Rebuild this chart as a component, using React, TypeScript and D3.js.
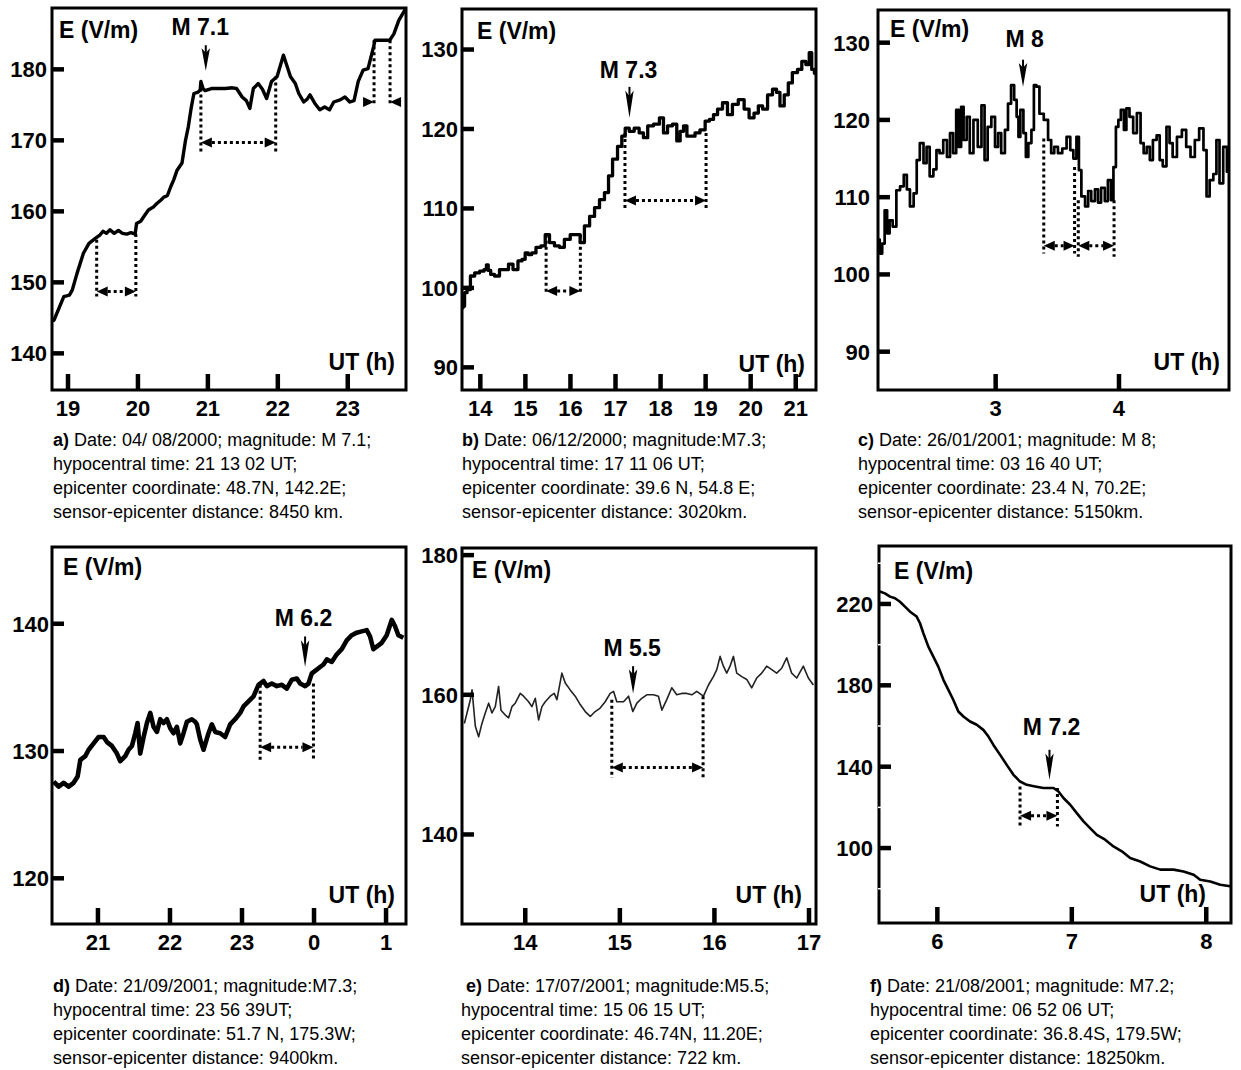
import React from 'react';
import * as d3 from 'd3';

type Pt = [number, number];

// ---------- series (time in UT hours, E in V/m) ----------
const seriesA: Pt[] = [
  [18.78, 144.5], [18.8, 144.7], [18.94, 148.0], [19.02, 148.2], [19.06, 148.9], [19.13, 151.3], [19.22, 154.1],
  [19.3, 155.5], [19.39, 156.2], [19.46, 156.7], [19.5, 157.2], [19.55, 156.9], [19.6, 157.4], [19.66, 156.9],
  [19.72, 157.3], [19.78, 156.9], [19.84, 156.8], [19.9, 157.0], [19.96, 156.8], [19.98, 158.3], [20.04, 158.6],
  [20.08, 159.2], [20.15, 160.2], [20.22, 160.6], [20.27, 161.1], [20.33, 161.6], [20.37, 162.0], [20.42, 162.2],
  [20.47, 163.5], [20.51, 164.4], [20.56, 165.8], [20.63, 166.8], [20.68, 170.0], [20.72, 171.9], [20.76, 174.5],
  [20.8, 176.6], [20.86, 176.8], [20.89, 177.1], [20.9, 178.3], [20.93, 177.3], [20.96, 177.0], [21.05, 177.3],
  [21.15, 177.3], [21.25, 177.3], [21.35, 177.4], [21.41, 177.3], [21.49, 176.1], [21.55, 175.6], [21.6, 174.5],
  [21.65, 177.3], [21.72, 178.0], [21.78, 177.2], [21.84, 175.9], [21.91, 178.3], [21.99, 179.0], [22.08, 182.0],
  [22.13, 180.5], [22.18, 179.0], [22.25, 178.0], [22.3, 176.6], [22.37, 175.4], [22.42, 175.8], [22.46, 176.4],
  [22.53, 175.2], [22.6, 174.3], [22.67, 174.7], [22.74, 174.3], [22.8, 175.4], [22.89, 175.7], [22.96, 176.1],
  [23.03, 175.4], [23.09, 175.6], [23.15, 178.3], [23.22, 179.9], [23.29, 180.1], [23.37, 183.2], [23.39, 184.1],
  [23.45, 184.1], [23.52, 184.1], [23.6, 184.1], [23.66, 185.0], [23.73, 186.9], [23.82, 188.4],
];

const seriesB: Pt[] = [
  [13.6, 97.5], [13.63, 97.7], [13.67, 99.4], [13.74, 99.8], [13.82, 101.5], [13.93, 101.9], [14.04, 102.1],
  [14.12, 102.3], [14.15, 102.9], [14.2, 102.2], [14.26, 101.7], [14.37, 101.5], [14.48, 102.3], [14.58, 102.3],
  [14.67, 103.0], [14.78, 102.3], [14.89, 103.4], [14.96, 103.6], [15.03, 104.4], [15.1, 104.2], [15.18, 104.4],
  [15.29, 105.1], [15.4, 105.3], [15.48, 106.7], [15.59, 105.7], [15.7, 105.3], [15.81, 105.1], [15.92, 106.1],
  [16.07, 106.7], [16.18, 106.7], [16.25, 105.7], [16.37, 107.8], [16.48, 109.0], [16.59, 110.1], [16.7, 111.1],
  [16.81, 112.0], [16.88, 114.1], [16.99, 116.2], [17.1, 117.8], [17.18, 119.1], [17.25, 120.1], [17.36, 119.7],
  [17.47, 120.1], [17.58, 119.5], [17.66, 118.9], [17.77, 120.4], [17.92, 120.6], [18.03, 121.4], [18.1, 119.5],
  [18.21, 120.4], [18.32, 120.6], [18.4, 118.5], [18.47, 119.7], [18.55, 120.4], [18.62, 119.1], [18.73, 119.1],
  [18.8, 119.5], [18.95, 119.9], [19.03, 121.0], [19.14, 121.2], [19.21, 121.8], [19.32, 122.5], [19.43, 123.3],
  [19.54, 121.8], [19.65, 123.1], [19.8, 123.7], [19.91, 122.5], [20.02, 121.4], [20.13, 122.0], [20.21, 122.9],
  [20.32, 122.5], [20.43, 124.3], [20.54, 125.0], [20.61, 124.6], [20.69, 122.9], [20.8, 124.3], [20.87, 125.8],
  [20.98, 127.1], [21.1, 127.5], [21.17, 128.5], [21.28, 128.1], [21.32, 129.6], [21.39, 127.5], [21.44, 127.0],
];

const seriesC: Pt[] = [
  [2.05, 104.5], [2.07, 102.7], [2.09, 104.0], [2.11, 108.3], [2.13, 105.3], [2.15, 107.0], [2.18, 106.2],
  [2.21, 110.9], [2.24, 111.4], [2.27, 112.9], [2.29, 111.0], [2.32, 108.8], [2.35, 110.5], [2.37, 114.8],
  [2.4, 117.0], [2.43, 114.4], [2.45, 116.5], [2.48, 112.7], [2.51, 113.6], [2.53, 116.1], [2.56, 115.7],
  [2.59, 117.4], [2.62, 115.2], [2.64, 118.3], [2.67, 115.7], [2.69, 121.3], [2.71, 116.5], [2.73, 121.7],
  [2.75, 117.4], [2.78, 120.4], [2.8, 115.7], [2.84, 120.0], [2.87, 116.5], [2.9, 121.9], [2.92, 114.8],
  [2.95, 119.1], [2.98, 120.4], [3.01, 116.5], [3.03, 118.3], [3.06, 115.7], [3.09, 118.7], [3.11, 122.1],
  [3.14, 124.5], [3.16, 122.6], [3.18, 120.4], [3.19, 117.8], [3.21, 121.3], [3.24, 118.3], [3.25, 115.2],
  [3.28, 117.0], [3.3, 118.7], [3.32, 124.5], [3.34, 124.3], [3.37, 120.8], [3.41, 120.0], [3.44, 117.4],
  [3.46, 115.7], [3.49, 116.5], [3.52, 115.7], [3.56, 116.3], [3.59, 117.8], [3.62, 116.1], [3.64, 115.0],
  [3.67, 117.8], [3.68, 113.5], [3.71, 110.1], [3.74, 108.8], [3.76, 110.8], [3.79, 109.5], [3.82, 111.0],
  [3.84, 109.3], [3.87, 111.2], [3.9, 109.5], [3.92, 112.2], [3.95, 109.6], [3.96, 113.9], [3.99, 119.1],
  [4.0, 120.0], [4.03, 121.3], [4.05, 118.7], [4.07, 121.5], [4.1, 120.4], [4.13, 118.3], [4.16, 120.9],
  [4.19, 117.0], [4.21, 115.7], [4.24, 116.5], [4.26, 114.8], [4.29, 117.4], [4.32, 118.0], [4.34, 114.8],
  [4.37, 114.0], [4.4, 119.1], [4.42, 117.0], [4.45, 115.2], [4.49, 117.8], [4.53, 118.7], [4.56, 116.5],
  [4.6, 115.2], [4.63, 117.4], [4.67, 118.9], [4.7, 116.1], [4.72, 110.1], [4.75, 112.2], [4.78, 113.0],
  [4.8, 117.4], [4.83, 111.8], [4.86, 116.5], [4.89, 113.3],
];

// hours after midnight continue as 24, 25
const seriesD: Pt[] = [
  [20.385, 127.6], [20.454, 127.2], [20.524, 127.5], [20.593, 127.2], [20.662, 127.5], [20.718, 128.0],
  [20.755, 129.3], [20.824, 129.6], [20.871, 130.1], [20.94, 130.6], [21.009, 131.1], [21.079, 131.1],
  [21.125, 130.7], [21.194, 130.4], [21.264, 129.8], [21.31, 129.2], [21.379, 129.6], [21.425, 130.1],
  [21.472, 130.4], [21.518, 131.4], [21.55, 132.2], [21.587, 129.8], [21.634, 131.1], [21.68, 132.2],
  [21.726, 133.0], [21.772, 131.9], [21.819, 131.5], [21.865, 132.5], [21.911, 132.2], [21.957, 132.5],
  [22.003, 131.8], [22.05, 131.4], [22.096, 131.9], [22.142, 130.6], [22.188, 131.4], [22.235, 132.3],
  [22.304, 132.5], [22.35, 132.3], [22.373, 132.1], [22.42, 130.9], [22.466, 130.1], [22.535, 131.4],
  [22.581, 132.1], [22.628, 131.5], [22.697, 131.4], [22.766, 131.1], [22.836, 132.1], [22.905, 132.5],
  [22.975, 133.0], [23.021, 133.5], [23.09, 133.9], [23.16, 134.3], [23.229, 135.2], [23.298, 135.5],
  [23.344, 135.1], [23.414, 135.3], [23.483, 135.1], [23.553, 135.2], [23.622, 134.9], [23.691, 135.6],
  [23.761, 135.7], [23.807, 135.3], [23.876, 135.1], [23.923, 135.3], [23.969, 136.1], [24.038, 136.4],
  [24.084, 136.6], [24.131, 136.8], [24.177, 137.2], [24.246, 137.0], [24.316, 137.6], [24.385, 138.0],
  [24.454, 138.7], [24.524, 139.1], [24.593, 139.3], [24.662, 139.4], [24.732, 139.5], [24.778, 139.0],
  [24.824, 138.0], [24.894, 138.3], [24.94, 138.5], [25.009, 139.1], [25.079, 140.3], [25.125, 139.8],
  [25.171, 139.1], [25.24, 138.9],
];

const seriesE: Pt[] = [
  [13.356, 155.9], [13.384, 157.4], [13.419, 159.3], [13.437, 160.7], [13.472, 155.5], [13.507, 154.0],
  [13.542, 155.9], [13.577, 157.4], [13.613, 158.8], [13.648, 157.4], [13.683, 158.3], [13.718, 161.2],
  [13.743, 157.8], [13.789, 157.1], [13.824, 156.7], [13.859, 158.3], [13.894, 158.8], [13.947, 160.2],
  [13.982, 159.8], [14.035, 159.0], [14.07, 158.3], [14.106, 159.5], [14.141, 156.4], [14.176, 158.3],
  [14.211, 159.0], [14.264, 159.8], [14.306, 160.2], [14.335, 159.3], [14.387, 163.1], [14.423, 161.7],
  [14.475, 160.7], [14.528, 159.8], [14.581, 158.6], [14.634, 157.6], [14.687, 156.9], [14.739, 157.6],
  [14.792, 158.1], [14.845, 159.0], [14.898, 160.2], [14.933, 160.5], [14.968, 159.0], [15.039, 159.0],
  [15.092, 159.8], [15.137, 157.6], [15.18, 158.8], [15.232, 159.5], [15.285, 160.0], [15.356, 160.0],
  [15.408, 159.8], [15.444, 157.8], [15.496, 159.3], [15.549, 161.0], [15.602, 160.0], [15.655, 160.2],
  [15.708, 160.2], [15.761, 160.0], [15.813, 160.5], [15.884, 159.8], [15.937, 161.4], [15.989, 162.6],
  [16.025, 163.6], [16.06, 165.5], [16.095, 164.1], [16.13, 163.1], [16.165, 164.1], [16.201, 165.5],
  [16.236, 163.1], [16.289, 162.6], [16.342, 162.2], [16.394, 161.0], [16.447, 162.4], [16.5, 163.1],
  [16.553, 164.1], [16.606, 163.6], [16.658, 163.1], [16.711, 163.8], [16.764, 165.3], [16.817, 163.1],
  [16.87, 162.4], [16.94, 164.1], [16.993, 162.4], [17.046, 161.4],
];

const seriesF: Pt[] = [
  [5.573, 226.1], [5.61, 225.2], [5.648, 223.6], [5.685, 222.8], [5.722, 221.1], [5.759, 218.7], [5.797, 216.2],
  [5.846, 213.8], [5.871, 210.5], [5.896, 205.6], [5.933, 199.0], [5.97, 194.1], [6.007, 189.2], [6.045, 182.7],
  [6.082, 177.8], [6.119, 172.8], [6.156, 167.1], [6.194, 164.7], [6.243, 162.2], [6.293, 160.6], [6.342, 158.1],
  [6.38, 154.8], [6.417, 150.7], [6.467, 145.8], [6.516, 140.9], [6.566, 136.0], [6.615, 132.7], [6.665, 131.1],
  [6.727, 130.3], [6.789, 129.5], [6.864, 129.5], [6.901, 127.8], [6.938, 124.6], [6.988, 121.3], [7.037, 117.2],
  [7.087, 113.1], [7.136, 109.8], [7.186, 106.5], [7.248, 104.1], [7.31, 100.8], [7.372, 98.4], [7.434, 95.1],
  [7.509, 93.4], [7.583, 91.0], [7.658, 89.4], [7.757, 89.4], [7.831, 88.5], [7.906, 86.9], [7.955, 84.4],
  [8.03, 83.6], [8.104, 82.0], [8.179, 81.2],
];

// ---------- ticks ----------
const xTicksA = [19, 20, 21, 22, 23];
const yTicksA = [140, 150, 160, 170, 180];
const xTicksB = [14, 15, 16, 17, 18, 19, 20, 21];
const yTicksB = [90, 100, 110, 120, 130];
const xTicksC = [3, 4];
const yTicksC = [90, 100, 110, 120, 130];
const xTicksD = [21, 22, 23, 24, 25];
const yTicksD = [120, 130, 140];
const xTicksE = [14, 15, 16, 17];
const yTicksE = [140, 160, 180];
const xTicksF = [6, 7, 8];
const yTicksF = [100, 140, 180, 220];
const yMinorF = [80, 120, 160, 200, 240];

// ---------- earthquake markers ----------
const quakeLabels = ['M 7.1', 'M 7.3', 'M 8', 'M 6.2', 'M 5.5', 'M 7.2'];
// [label time, label baseline value, arrow time, arrow top value, arrow tip value]
const quakeA = [20.89, 184.8, 20.97, 183.4, 179.8];
const quakeB = [17.29, 126.4, 17.31, 125.3, 121.4];
const quakeC = [3.235, 129.5, 3.222, 127.8, 124.3];
const quakeD = [23.853, 139.8, 23.876, 139.0, 136.6];
const quakeE = [15.13, 165.5, 15.14, 164.1, 160.2];
const quakeF = [6.85, 155.7, 6.834, 148.3, 133.6];

// ---------- interval markers: [t1, t2, top1, top2, bottom, arrowY, inward(0/1)] ----------
const intervalsA = [
  [19.41, 19.97, 156.0, 156.8, 148.0, 148.7, 0],
  [20.9, 21.97, 177.3, 179.0, 168.2, 169.7, 0],
  [23.376, 23.605, 184.1, 184.1, 175.0, 175.4, 1],
];
const intervalsB = [
  [15.46, 16.22, 106.7, 106.7, 99.2, 99.6, 0],
  [17.21, 19.01, 119.5, 119.5, 109.9, 111.0, 0],
];
const intervalsC = [
  [3.39, 3.64, 117.6, 113.9, 102.7, 103.7, 0],
  [3.67, 3.96, 109.6, 109.6, 102.3, 103.7, 0],
];
const intervalsD = [[23.252, 23.992, 135.2, 135.3, 129.3, 130.3, 0]];
const intervalsE = [[14.915, 15.88, 159.3, 159.8, 148.1, 149.6, 0]];
const intervalsF = [[6.615, 6.893, 130.3, 129.5, 110.6, 115.9, 0]];

// ---------- captions ----------
const captionPrefixes = ['a)', 'b)', 'c)', 'd)', 'e)', 'f)'];
const captionA = ['Date: 04/ 08/2000; magnitude: M 7.1;', 'hypocentral time: 21 13 02 UT;', 'epicenter coordinate: 48.7N, 142.2E;', 'sensor-epicenter distance: 8450 km.'];
const captionB = ['Date: 06/12/2000; magnitude:M7.3;', 'hypocentral time: 17 11 06 UT;', 'epicenter coordinate: 39.6 N, 54.8 E;', 'sensor-epicenter distance: 3020km.'];
const captionC = ['Date: 26/01/2001; magnitude: M 8;', 'hypocentral time: 03 16 40 UT;', 'epicenter coordinate: 23.4 N, 70.2E;', 'sensor-epicenter distance: 5150km.'];
const captionD = ['Date: 21/09/2001; magnitude:M7.3;', 'hypocentral time: 23 56 39UT;', 'epicenter coordinate: 51.7 N, 175.3W;', 'sensor-epicenter distance: 9400km.'];
const captionE = ['Date: 17/07/2001; magnitude:M5.5;', 'hypocentral time: 15 06 15 UT;', 'epicenter coordinate: 46.74N, 11.20E;', 'sensor-epicenter distance: 722 km.'];
const captionF = ['Date: 21/08/2001; magnitude: M7.2;', 'hypocentral time: 06 52 06 UT;', 'epicenter coordinate: 36.8.4S, 179.5W;', 'sensor-epicenter distance: 18250km.'];

const FONT = '"Liberation Sans", Arial, Helvetica, sans-serif';

interface PanelSpec {
  key: string;
  box: { x0: number; x1: number; y0: number; y1: number };
  xDomain: [number, number];
  yDomain: [number, number];
  data: Pt[];
  xTicks: number[];
  yTicks: number[];
  yMinor?: number[];
  curve: any;
  lw: number;
  color: string;
  quake: number[];
  label: string;
  intervals: number[][];
  eLabel: [number, number];
  utLabel: [number, number];
  yGap: number;
  caption: string[];
  prefix: string;
  capPos: [number, number, number];
}

const panels: PanelSpec[] = [
  {
    key: 'a', box: { x0: 52, x1: 406, y0: 8, y1: 390 }, xDomain: [18.771, 23.833], yDomain: [134.84, 188.64],
    data: seriesA, xTicks: xTicksA, yTicks: yTicksA, curve: d3.curveLinear, lw: 3.4, color: '#000',
    quake: quakeA, label: quakeLabels[0], intervals: intervalsA, eLabel: [7, 30], utLabel: [-11, -20], yGap: 5,
    caption: captionA, prefix: captionPrefixes[0], capPos: [53, 446, 0],
  },
  {
    key: 'b', box: { x0: 462, x1: 816, y0: 9, y1: 390 }, xDomain: [13.593, 21.45], yDomain: [87.15, 135.1],
    data: seriesB, xTicks: xTicksB, yTicks: yTicksB, curve: d3.curveStep, lw: 3.3, color: '#000',
    quake: quakeB, label: quakeLabels[1], intervals: intervalsB, eLabel: [15, 30], utLabel: [-11, -18], yGap: 4,
    caption: captionB, prefix: captionPrefixes[1], capPos: [462, 446, 0],
  },
  {
    key: 'c', box: { x0: 878, x1: 1229, y0: 10, y1: 390 }, xDomain: [2.046, 4.892], yDomain: [85.04, 134.23],
    data: seriesC, xTicks: xTicksC, yTicks: yTicksC, curve: d3.curveStep, lw: 2.7, color: '#000',
    quake: quakeC, label: quakeLabels[2], intervals: intervalsC, eLabel: [12, 27], utLabel: [-9, -20], yGap: 8,
    caption: captionC, prefix: captionPrefixes[2], capPos: [858, 446, 0],
  },
  {
    key: 'd', box: { x0: 52, x1: 406, y0: 547, y1: 924 }, xDomain: [20.362, 25.277], yDomain: [116.41, 146.03],
    data: seriesD, xTicks: xTicksD, yTicks: yTicksD, curve: d3.curveLinear, lw: 4.6, color: '#000',
    quake: quakeD, label: quakeLabels[3], intervals: intervalsD, eLabel: [11, 28], utLabel: [-11, -21], yGap: 3,
    caption: captionD, prefix: captionPrefixes[3], capPos: [53, 992, 0],
  },
  {
    key: 'e', box: { x0: 462, x1: 816, y0: 548, y1: 924 }, xDomain: [13.331, 17.074], yDomain: [127.18, 181.02],
    data: seriesE, xTicks: xTicksE, yTicks: yTicksE, curve: d3.curveLinear, lw: 1.6, color: '#222',
    quake: quakeE, label: quakeLabels[4], intervals: intervalsE, eLabel: [10, 30], utLabel: [-14, -21], yGap: 4,
    caption: captionE, prefix: captionPrefixes[4], capPos: [461, 992, 5],
  },
  {
    key: 'f', box: { x0: 879, x1: 1231, y0: 546, y1: 923 }, xDomain: [5.566, 8.184], yDomain: [63.16, 248.49],
    data: seriesF, xTicks: xTicksF, yTicks: yTicksF, yMinor: yMinorF, curve: d3.curveLinear, lw: 2.6, color: '#000',
    quake: quakeF, label: quakeLabels[5], intervals: intervalsF, eLabel: [15, 33], utLabel: [-25, -21], yGap: 6,
    caption: captionF, prefix: captionPrefixes[5], capPos: [870, 992, 0],
  },
];

function Panel({ p }: { p: PanelSpec }) {
  const { x0, x1, y0, y1 } = p.box;
  const x = d3.scaleLinear().domain(p.xDomain).range([x0, x1]);
  const y = d3.scaleLinear().domain(p.yDomain).range([y1, y0]);
  const line = d3.line<Pt>().x((d) => x(d[0])).y((d) => y(d[1])).curve(p.curve);
  const clipId = `clip-${p.key}`;

  const [lt, lv, at, aTop, aTip] = p.quake;
  const ax = x(at);
  const ayTop = y(aTop);
  const ayTip = y(aTip);
  const L = ayTip - ayTop;

  const dotted = { stroke: '#000', strokeWidth: 3, strokeDasharray: '3 3', fill: 'none' } as const;

  return (
    <g>
      <defs>
        <clipPath id={clipId}>
          <rect x={x0} y={y0} width={x1 - x0} height={y1 - y0} />
        </clipPath>
      </defs>
      {/* data trace */}
      <path d={line(p.data) || ''} fill="none" stroke={p.color} strokeWidth={p.lw} strokeLinejoin="round" clipPath={`url(#${clipId})`} />

      {/* interval markers */}
      {p.intervals.map((iv, k) => {
        const [t1, t2, top1, top2, bottom, ayv, inward] = iv;
        const X1 = x(t1);
        const X2 = x(t2);
        const Y = y(ayv);
        const hl = 11;
        const hw = 5;
        return (
          <g key={k}>
            <line x1={X1} x2={X1} y1={y(top1)} y2={y(bottom)} {...dotted} />
            <line x1={X2} x2={X2} y1={y(top2)} y2={y(bottom)} {...dotted} />
            {inward ? (
              <>
                <path d={`M${X1},${Y} L${X1 - hl},${Y - hw} L${X1 - hl},${Y + hw} Z`} fill="#000" />
                <path d={`M${X2},${Y} L${X2 + hl},${Y - hw} L${X2 + hl},${Y + hw} Z`} fill="#000" />
              </>
            ) : (
              <>
                <line x1={X1 + hl} x2={X2 - hl} y1={Y} y2={Y} {...dotted} />
                <path d={`M${X1},${Y} L${X1 + hl},${Y - hw} L${X1 + hl},${Y + hw} Z`} fill="#000" />
                <path d={`M${X2},${Y} L${X2 - hl},${Y - hw} L${X2 - hl},${Y + hw} Z`} fill="#000" />
              </>
            )}
          </g>
        );
      })}

      {/* quake arrow + label */}
      <line x1={ax} x2={ax} y1={ayTop} y2={ayTop + L * 0.45} stroke="#000" strokeWidth={2} />
      <path
        d={`M${ax - 4.2},${ayTop + L * 0.12} L${ax},${ayTop + L * 0.3} L${ax + 4.2},${ayTop + L * 0.12} L${ax},${ayTip} Z`}
        fill="#000"
      />
      <text x={x(lt)} y={y(lv)} textAnchor="middle" fontFamily={FONT} fontWeight="bold" fontSize={23}>
        {p.label}
      </text>

      {/* frame */}
      <rect x={x0} y={y0} width={x1 - x0} height={y1 - y0} fill="none" stroke="#000" strokeWidth={3} />

      {/* y ticks */}
      {p.yTicks.map((v) => (
        <g key={`y${v}`}>
          <line x1={x0} x2={x0 + 12} y1={y(v)} y2={y(v)} stroke="#000" strokeWidth={4.5} />
          <text x={x0 - p.yGap} y={y(v)} dy="0.36em" textAnchor="end" fontFamily={FONT} fontWeight="bold" fontSize={22}>
            {v}
          </text>
        </g>
      ))}
      {(p.yMinor || []).map((v) => (
        <line key={`m${v}`} x1={x0 - 1} x2={x0 + 4} y1={y(v)} y2={y(v)} stroke="#fff" strokeWidth={1.5} />
      ))}

      {/* x ticks */}
      {p.xTicks.map((t) => (
        <g key={`x${t}`}>
          <line x1={x(t)} x2={x(t)} y1={y1} y2={y1 - 16} stroke="#000" strokeWidth={4.5} />
          <text x={x(t)} y={y1 + 26} textAnchor="middle" fontFamily={FONT} fontWeight="bold" fontSize={22}>
            {t % 24}
          </text>
        </g>
      ))}

      {/* axis titles */}
      <text x={x0 + p.eLabel[0]} y={y0 + p.eLabel[1]} fontFamily={FONT} fontWeight="bold" fontSize={23}>
        E (V/m)
      </text>
      <text x={x1 + p.utLabel[0]} y={y1 + p.utLabel[1]} textAnchor="end" fontFamily={FONT} fontWeight="bold" fontSize={23}>
        UT (h)
      </text>

      {/* caption */}
      {p.caption.map((s, i) => (
        <text key={`c${i}`} x={p.capPos[0] + (i === 0 ? p.capPos[2] : 0)} y={p.capPos[1] + i * 24} fontFamily={FONT} fontSize={18}>
          {i === 0 ? (
            <>
              <tspan fontWeight="bold">{p.prefix}</tspan>
              <tspan> {s}</tspan>
            </>
          ) : (
            s
          )}
        </text>
      ))}
    </g>
  );
}

export default function App() {
  return (
    <svg
      width={1241}
      height={1070}
      viewBox="0 0 1241 1070"
      style={{ position: 'absolute', left: 0, top: 0, background: '#fff' }}
    >
      <rect x={0} y={0} width={1241} height={1070} fill="#fff" />
      {panels.map((p) => (
        <Panel key={p.key} p={p} />
      ))}
    </svg>
  );
}
